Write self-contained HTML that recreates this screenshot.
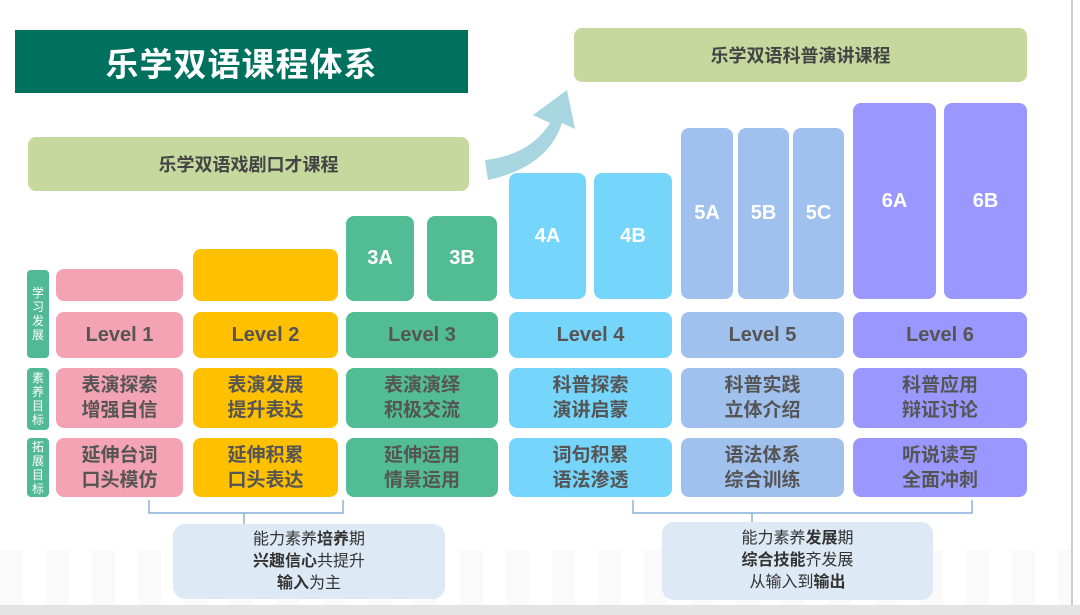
<!DOCTYPE html>
<html><head><meta charset="utf-8"><style>
body{margin:0;width:1080px;height:615px;background:#fff;position:relative;overflow:hidden;font-family:"Liberation Sans","Noto Sans CJK SC",sans-serif}
.a{position:absolute;box-sizing:border-box;display:flex;align-items:center;justify-content:center;text-align:center}
.r{border-radius:8px}
.t{color:#555;font-weight:bold;font-size:19px;line-height:25px}
.lv{color:#555;font-weight:bold;font-size:20px}
.w{color:#fff;font-weight:bold;font-size:20px}
.s{background:#52b996;color:#fff;font-size:12px;line-height:14px;border-radius:4px}
.s div{width:12px;word-break:break-all}
.c{background:#dde9f5;border-radius:12px;color:#333;font-size:16px;line-height:22px}
</style></head><body>
<div style="position:absolute;left:0;top:550px;width:1072px;height:55px;background:repeating-linear-gradient(90deg,#fafafa 0 23px,#fff 23px 46px)"></div>
<div style="position:absolute;left:0;top:605px;width:1080px;height:10px;background:#e4e4e4"></div>
<div style="position:absolute;left:1071px;top:0;width:2px;height:605px;background:#ccc"></div>
<div class="a" style="left:15px;top:30px;width:453px;height:63px;background:#00705f;color:#fff;font-size:33px;font-weight:bold;letter-spacing:1px">乐学双语课程体系</div>
<div class="a r" style="left:574px;top:28px;width:453px;height:54px;background:#c6d89d;color:#444;font-size:18px;font-weight:bold">乐学双语科普演讲课程</div>
<div class="a r" style="left:28px;top:137px;width:441px;height:54px;background:#c6d89d;color:#444;font-size:18px;font-weight:bold">乐学双语戏剧口才课程</div>
<svg style="position:absolute;left:470px;top:85px" width="120" height="100"><path d="M15 75 Q60 70 80 38 L63 30 L97 5 L105 44 L92 38 Q78 82 18 95 Z" fill="#a8d6e0"/></svg>
<div class="a s" style="left:27px;top:270px;width:22px;height:88px"><div>学习发展</div></div>
<div class="a s" style="left:27px;top:368px;width:22px;height:62px"><div>素养目标</div></div>
<div class="a s" style="left:27px;top:438px;width:22px;height:59px"><div>拓展目标</div></div>

<div class="a r" style="left:56px;top:269px;width:127px;height:32px;background:#f4a3b5"></div>
<div class="a r" style="left:193px;top:249px;width:145px;height:52px;background:#ffc000"></div>
<div class="a r w" style="left:346px;top:216px;width:68px;height:85px;background:#52bc94">3A</div>
<div class="a r w" style="left:427px;top:216px;width:70px;height:85px;background:#52bc94">3B</div>
<div class="a r w" style="left:509px;top:173px;width:77px;height:126px;background:#75d5fb">4A</div>
<div class="a r w" style="left:594px;top:173px;width:78px;height:126px;background:#75d5fb">4B</div>
<div class="a r w" style="left:681px;top:128px;width:52px;height:171px;background:#a0c0ee">5A</div>
<div class="a r w" style="left:738px;top:128px;width:51px;height:171px;background:#a0c0ee">5B</div>
<div class="a r w" style="left:793px;top:128px;width:51px;height:171px;background:#a0c0ee">5C</div>
<div class="a r w" style="left:853px;top:103px;width:83px;height:196px;background:#9a98fe">6A</div>
<div class="a r w" style="left:944px;top:103px;width:83px;height:196px;background:#9a98fe">6B</div>

<div class="a r lv" style="left:56px;top:312px;width:127px;height:46px;background:#f4a3b5">Level 1</div>
<div class="a r lv" style="left:193px;top:312px;width:145px;height:46px;background:#ffc000">Level 2</div>
<div class="a r lv" style="left:346px;top:312px;width:152px;height:46px;background:#52bc94">Level 3</div>
<div class="a r lv" style="left:509px;top:312px;width:163px;height:46px;background:#75d5fb">Level 4</div>
<div class="a r lv" style="left:681px;top:312px;width:163px;height:46px;background:#a0c0ee">Level 5</div>
<div class="a r lv" style="left:853px;top:312px;width:174px;height:46px;background:#9a98fe">Level 6</div>

<div class="a r t" style="left:56px;top:368px;width:127px;height:60px;background:#f4a3b5">表演探索<br>增强自信</div>
<div class="a r t" style="left:193px;top:368px;width:145px;height:60px;background:#ffc000">表演发展<br>提升表达</div>
<div class="a r t" style="left:346px;top:368px;width:152px;height:60px;background:#52bc94">表演演绎<br>积极交流</div>
<div class="a r t" style="left:509px;top:368px;width:163px;height:60px;background:#75d5fb">科普探索<br>演讲启蒙</div>
<div class="a r t" style="left:681px;top:368px;width:163px;height:60px;background:#a0c0ee">科普实践<br>立体介绍</div>
<div class="a r t" style="left:853px;top:368px;width:174px;height:60px;background:#9a98fe">科普应用<br>辩证讨论</div>

<div class="a r t" style="left:56px;top:438px;width:127px;height:59px;background:#f4a3b5">延伸台词<br>口头模仿</div>
<div class="a r t" style="left:193px;top:438px;width:145px;height:59px;background:#ffc000">延伸积累<br>口头表达</div>
<div class="a r t" style="left:346px;top:438px;width:152px;height:59px;background:#52bc94">延伸运用<br>情景运用</div>
<div class="a r t" style="left:509px;top:438px;width:163px;height:59px;background:#75d5fb">词句积累<br>语法渗透</div>
<div class="a r t" style="left:681px;top:438px;width:163px;height:59px;background:#a0c0ee">语法体系<br>综合训练</div>
<div class="a r t" style="left:853px;top:438px;width:174px;height:59px;background:#9a98fe">听说读写<br>全面冲刺</div>

<svg style="position:absolute;left:0;top:0" width="1080" height="615"><path d="M149 500 V513 H343 V500 M244 513 V524 M633 500 V513 H972 V500 M752 513 V522" fill="none" stroke="#6d9fd3" stroke-width="1.2"/></svg>
<div class="a c" style="left:173px;top:524px;width:272px;height:75px"><div>能力素养<b>培养</b>期<br><b>兴趣信心</b>共提升<br><b>输入</b>为主</div></div>
<div class="a c" style="left:662px;top:522px;width:271px;height:78px"><div>能力素养<b>发展</b>期<br><b>综合技能</b>齐发展<br>从输入到<b>输出</b></div></div>
</body></html>
